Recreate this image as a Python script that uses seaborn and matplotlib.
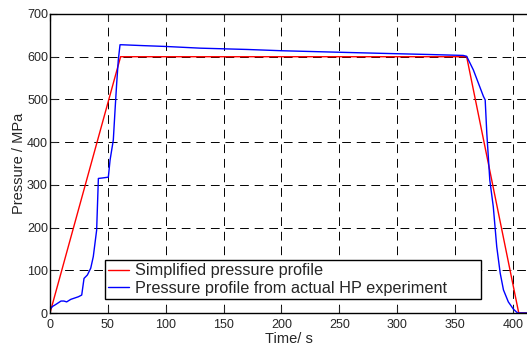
import numpy as np
import pandas as pd
import matplotlib
matplotlib.use("Agg")
import matplotlib.pyplot as plt
import seaborn as sns

# Simplified pressure profile
simp_t = [0, 61, 360, 405, 413]
simp_p = [0, 600, 600, 0, 0]

# Pressure profile from actual HP experiment
exp_t = [0, 2, 5, 9.5, 12, 14.4, 18, 24.5, 27.4, 29.4, 32.3, 35.2, 37.4, 40.3, 41.8,
         45, 50.4, 51.9, 54.7, 56.2, 57.6, 59, 60.5, 62, 80, 100, 130, 170, 200, 242,
         285, 330, 357, 360, 365.8, 374.5, 376, 377.4, 380, 383, 386, 389, 391.8, 396,
         400.4, 404, 413]
exp_p = [8, 15, 20, 28, 28, 26, 32, 38, 42, 81, 89, 105, 132, 194, 315,
         316, 318, 358, 405, 475, 537, 592, 628, 628, 626, 624, 620, 617, 614, 611,
         608, 605, 603, 601, 569, 507, 499, 421, 311, 249, 155, 93, 54, 26,
         9, 0, 0]

labels = ["Simplified pressure profile", "Pressure profile from actual HP experiment"]
x_ticks = [0, 50, 100, 150, 200, 250, 300, 350, 400]
y_ticks = [0, 100, 200, 300, 400, 500, 600, 700]

df = pd.concat([
    pd.DataFrame({"t": simp_t, "p": simp_p, "s": labels[0]}),
    pd.DataFrame({"t": exp_t, "p": exp_p, "s": labels[1]}),
], ignore_index=True)

sns.set_style("ticks")
plt.rcParams["font.family"] = ["Liberation Sans", "DejaVu Sans"]

fig = plt.figure(figsize=(5.27, 3.47), dpi=100)
ax = fig.add_axes([50/527, 34/347, 478/527, 299/347])

sns.lineplot(data=df, x="t", y="p", hue="s", palette=["#ff0000", "#0000ff"],
             sort=False, estimator=None, ax=ax, linewidth=1.0)

ax.set_xlim(0, 413)
ax.set_ylim(0, 700)
ax.set_xticks(x_ticks)
ax.set_yticks(y_ticks)
ax.tick_params(direction="in", labelsize=9, length=5, width=0.8,
               top=True, right=False)
ax.tick_params(axis="x", pad=4)
ax.tick_params(axis="y", pad=1.5)
ax.grid(True, color="black", linestyle=(0, (9, 6)), linewidth=0.7)
for sp in ax.spines.values():
    sp.set_linewidth(1.0)
    sp.set_color("black")

ax.set_xlabel("Time/ s", fontsize=10.5, labelpad=1)
ax.set_ylabel("Pressure / MPa", fontsize=10.5, labelpad=1)

leg = ax.legend(loc="lower left", bbox_to_anchor=(0.115, 0.047, 0.787, 0.137),
                mode="expand", fontsize=11.7,
                frameon=True, fancybox=False, edgecolor="black", framealpha=1,
                borderpad=0.2, labelspacing=0.15, handlelength=1.25,
                handletextpad=0.4, borderaxespad=0)
leg.get_frame().set_linewidth(1.0)

fig.savefig("out.png", dpi=100)
